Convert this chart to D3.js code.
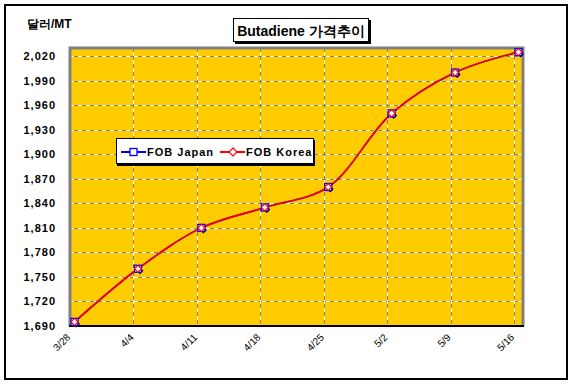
<!DOCTYPE html>
<html>
<head>
<meta charset="utf-8">
<style>
    body { margin: 0; background: #fff; }
    svg { display: block; font-family: "Liberation Sans", Arial, sans-serif; }
    .tick-y { font-size: 11px; font-weight: bold; letter-spacing: 1px; }
    .tick-x { font-size: 10px; }
</style>
<script src="https://cdn.jsdelivr.net/npm/d3@7"></script>
</head>
<body>
<svg width="573" height="389"></svg>
<script>
    // 주간 가격 (달러/MT)
    var dates = ["3/28", "4/4", "4/11", "4/18", "4/25", "5/2", "5/9", "5/16"];
    var fobJapan = [1695, 1760, 1810, 1835, 1860, 1950, 2000, 2025];
    var fobKorea = [1695, 1760, 1810, 1835, 1860, 1950, 2000, 2025];
    var yTicks = [1690, 1720, 1750, 1780, 1810, 1840, 1870, 1900, 1930, 1960, 1990, 2020];

    var svg = d3.select("svg");
    var pLeft = 70, pRight = 523, pTop = 48, pBottom = 326;

    var parse = function (s) {
        var p = s.split("/");
        return new Date(2008, +p[0] - 1, +p[1]);
    };
    var dayMs = 86400000;
    var start = parse(dates[0]);
    var end = new Date(parse(dates[dates.length - 1]).getTime() + dayMs);

    var x = d3.scaleTime().domain([start, end]).range([pLeft, pRight]);
    var y = d3.scaleLinear().domain([1690, 2030]).range([pBottom, pTop]);

    // 점은 날짜 중간쯤에 찍힘
    var px = function (d) { return x(new Date(parse(d).getTime() + dayMs / 2)); };

    // 바깥 테두리
    svg.append("rect")
        .attr("x", 5).attr("y", 5).attr("width", 562).attr("height", 374)
        .attr("fill", "#fff").attr("stroke", "#000").attr("stroke-width", 2);

    // 그림 영역
    svg.append("rect")
        .attr("x", pLeft).attr("y", pTop)
        .attr("width", pRight - pLeft).attr("height", pBottom - pTop)
        .attr("fill", "#ffcc00");

    // 격자
    var grid = svg.append("g");
    yTicks.forEach(function (t) {
        if (t === 1690) return;
        var gy = Math.round(y(t)) + 0.5;
        grid.append("line").attr("x1", pLeft).attr("x2", pRight)
            .attr("y1", gy).attr("y2", gy)
            .attr("stroke", "#808080");
        grid.append("line").attr("x1", pLeft).attr("x2", pRight)
            .attr("y1", gy).attr("y2", gy)
            .attr("stroke", "#fff").attr("stroke-dasharray", "4,4");
    });
    dates.forEach(function (d, i) {
        if (i === 0) return;
        var gx = Math.round(x(parse(d))) + 0.5;
        grid.append("line").attr("x1", gx).attr("x2", gx)
            .attr("y1", pTop).attr("y2", pBottom)
            .attr("stroke", "#fff");
        grid.append("line").attr("x1", gx).attr("x2", gx)
            .attr("y1", pTop).attr("y2", pBottom)
            .attr("stroke", "#808080").attr("stroke-dasharray", "4,4");
    });

    // 테두리 (회색 위/오른쪽/왼쪽, 검정 아래)
    svg.append("path")
        .attr("d", "M" + pLeft + "," + pBottom + "V" + pTop + "H" + pRight + "V" + pBottom)
        .attr("fill", "none").attr("stroke", "#808080").attr("stroke-width", 3);
    svg.append("line")
        .attr("x1", pLeft - 1).attr("x2", pRight + 1)
        .attr("y1", pBottom).attr("y2", pBottom)
        .attr("stroke", "#000").attr("stroke-width", 2);

    // y축 라벨
    svg.append("g").selectAll("text")
        .data(yTicks).enter().append("text")
        .attr("class", "tick-y")
        .attr("x", 56).attr("y", function (d) { return y(d) + 4; })
        .attr("text-anchor", "end")
        .text(d3.format(","));

    // x축 라벨
    svg.append("g").selectAll("text")
        .data(dates).enter().append("text")
        .attr("class", "tick-x")
        .attr("text-anchor", "end")
        .attr("transform", function (d) {
            return "translate(" + (x(parse(d)) + 1) + "," + (pBottom + 12) + ") rotate(-45)";
        })
        .text(function (d) { return d; });

    // 선
    var line = d3.line()
        .x(function (d, i) { return px(dates[i]); })
        .y(function (d) { return y(d); })
        .curve(d3.curveCatmullRom.alpha(0.5));

    svg.append("path").datum(fobJapan)
        .attr("d", line).attr("fill", "none")
        .attr("stroke", "#0000ff").attr("stroke-width", 1.6);
    svg.append("path").datum(fobKorea)
        .attr("d", line).attr("fill", "none")
        .attr("stroke", "#ff0000").attr("stroke-width", 1.6);

    var diamond = "M0,-3.5L3.5,0L0,3.5L-3.5,0Z";

    // 마커 그림자
    svg.append("g").selectAll("path")
        .data(fobKorea).enter().append("path")
        .attr("d", diamond)
        .attr("transform", function (d, i) { return "translate(" + (px(dates[i]) + 2) + "," + (y(d) + 2) + ")"; })
        .attr("fill", "#000");

    // FOB Japan 마커
    svg.append("g").selectAll("rect")
        .data(fobJapan).enter().append("rect")
        .attr("x", function (d, i) { return px(dates[i]) - 3.5; })
        .attr("y", function (d) { return y(d) - 3.5; })
        .attr("width", 7).attr("height", 7)
        .attr("fill", "#fff").attr("stroke", "#0000ff").attr("stroke-width", 1.3);

    // FOB Korea 마커
    svg.append("g").selectAll("path")
        .data(fobKorea).enter().append("path")
        .attr("d", diamond)
        .attr("transform", function (d, i) { return "translate(" + px(dates[i]) + "," + y(d) + ")"; })
        .attr("fill", "#fff").attr("stroke", "#ff0000").attr("stroke-width", 1.2);

    // 제목
    svg.append("rect").attr("x", 235).attr("y", 20).attr("width", 136).attr("height", 24).attr("fill", "#000");
    svg.append("rect").attr("x", 233.5).attr("y", 18.5).attr("width", 135).attr("height", 23)
        .attr("fill", "#fff").attr("stroke", "#000");
    svg.append("text")
        .attr("x", 301).attr("y", 35.5).attr("text-anchor", "middle")
        .style("font-size", "14px").style("font-weight", "bold")
        .text("Butadiene 가격추이");

    // 단위
    svg.append("text")
        .attr("x", 27).attr("y", 28)
        .style("font-size", "12px").style("font-weight", "bold")
        .text("달러/MT");

    // 범례
    var lg = svg.append("g");
    lg.append("rect").attr("x", 117).attr("y", 140).attr("width", 198).attr("height", 26).attr("fill", "#000");
    lg.append("rect").attr("x", 116.5).attr("y", 138.5).attr("width", 197).attr("height", 25)
        .attr("fill", "#fff").attr("stroke", "#000");
    var legendItems = [
        { name: "FOB Japan", color: "#0000ff", x: 121 },
        { name: "FOB Korea", color: "#ff0000", x: 220 }
    ];
    legendItems.forEach(function (it, i) {
        lg.append("line").attr("x1", it.x).attr("x2", it.x + 25)
            .attr("y1", 152).attr("y2", 152)
            .attr("stroke", it.color).attr("stroke-width", 2);
        if (i === 0) {
            lg.append("rect").attr("x", it.x + 9).attr("y", 148.5).attr("width", 7).attr("height", 7)
                .attr("fill", "#fff").attr("stroke", it.color).attr("stroke-width", 1.3);
        } else {
            lg.append("path").attr("d", "M0,-4L4,0L0,4L-4,0Z")
                .attr("transform", "translate(" + (it.x + 13) + ",152)")
                .attr("fill", "#fff").attr("stroke", it.color).attr("stroke-width", 1.2);
        }
        lg.append("text").attr("x", it.x + 26).attr("y", 156)
            .style("font-size", "11px").style("font-weight", "bold").style("letter-spacing", "1px")
            .text(it.name);
    });
</script>
</body>
</html>
